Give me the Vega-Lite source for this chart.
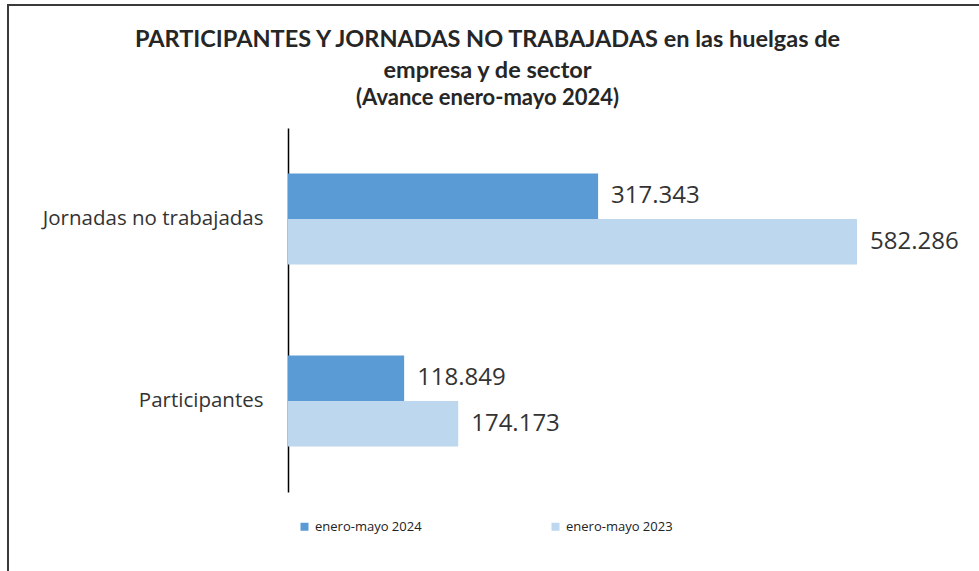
{
  "$schema": "https://vega.github.io/schema/vega-lite/v6.json",
  "width": 973,
  "height": 568,
  "autosize": {"type": "none"},
  "padding": {"left": 8, "top": 5, "right": -2, "bottom": -2},
  "background": "white",
  "config": {
    "view": {"stroke": "#3a3a3a", "strokeWidth": 2},
    "locale": {"number": {"decimal": ",", "thousands": ".", "grouping": [3], "currency": ["", " €"]}}
  },
  "title": {
    "text": ["PARTICIPANTES Y JORNADAS NO TRABAJADAS en las huelgas de", "empresa y de sector"],
    "subtitle": "(Avance enero-mayo 2024)",
    "anchor": "middle",
    "frame": "group",
    "orient": "top",
    "baseline": "top",
    "offset": -67,
    "dy": 37,
    "dx": -7,
    "font": "Lato",
    "fontSize": 23.5,
    "fontWeight": "bold",
    "color": "#262626",
    "lineHeight": 31,
    "subtitleFont": "Lato",
    "subtitleFontSize": 22,
    "subtitleFontWeight": "bold",
    "subtitleColor": "#262626",
    "subtitlePadding": 6
  },
  "data": {
    "values": [
      {"cat": "Jornadas no trabajadas", "period": "enero-mayo 2024", "value": 317343},
      {"cat": "Jornadas no trabajadas", "period": "enero-mayo 2023", "value": 582286},
      {"cat": "Participantes", "period": "enero-mayo 2024", "value": 118849},
      {"cat": "Participantes", "period": "enero-mayo 2023", "value": 174173}
    ]
  },
  "encoding": {
    "y": {
      "field": "cat",
      "type": "nominal",
      "sort": ["Jornadas no trabajadas", "Participantes"],
      "scale": {"range": [123, 487], "paddingInner": 0, "paddingOuter": 0},
      "axis": {
        "title": null,
        "offset": -280,
        "domain": true,
        "domainColor": "#000000",
        "domainWidth": 1.5,
        "ticks": false,
        "labelPadding": 25,
        "labelLimit": 400,
        "labelFont": "Open Sans",
        "labelFontSize": 20.5,
        "labelColor": "#333333"
      }
    },
    "yOffset": {
      "field": "period",
      "type": "nominal",
      "sort": ["enero-mayo 2024", "enero-mayo 2023"],
      "scale": {"paddingInner": 0, "paddingOuter": 1.116}
    },
    "x": {
      "field": "value",
      "type": "quantitative",
      "scale": {"domain": [0, 716350], "range": [280, 980], "nice": false, "zero": true},
      "axis": null
    }
  },
  "layer": [
    {
      "mark": {"type": "bar"},
      "encoding": {
        "color": {
          "field": "period",
          "type": "nominal",
          "sort": ["enero-mayo 2024", "enero-mayo 2023"],
          "scale": {"domain": ["enero-mayo 2024", "enero-mayo 2023"], "range": ["#5B9BD5", "#BDD7EE"]},
          "legend": {
            "title": null,
            "orient": "none",
            "legendX": 290,
            "legendY": 515,
            "direction": "horizontal",
            "columns": 2,
            "gridAlign": "all",
            "columnPadding": 127,
            "symbolType": "square",
            "symbolSize": 64,
            "symbolStrokeWidth": 0,
            "labelFont": "Open Sans",
            "labelFontSize": 13,
            "labelColor": "#222222",
            "labelOffset": 4
          }
        }
      }
    },
    {
      "mark": {"type": "text", "align": "left", "baseline": "middle", "dx": 13, "font": "Open Sans", "fontSize": 24, "color": "#333333"},
      "encoding": {
        "text": {"field": "value", "type": "quantitative", "format": ",d"}
      }
    }
  ]
}
